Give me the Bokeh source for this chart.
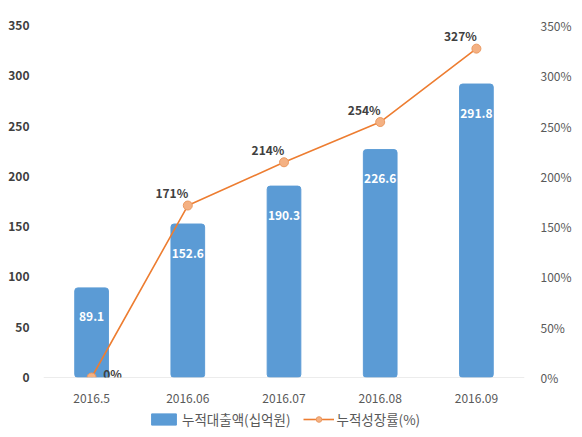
from bokeh.embed import file_html
from bokeh.resources import INLINE
from bokeh.core.properties import value
from bokeh.layouts import column
from bokeh.models import (ColumnDataSource, LinearAxis, Range1d, LabelSet,
                          Legend, LegendItem, PrintfTickFormatter, FixedTicker, Span)
from bokeh.plotting import figure

months = ["2016.5", "2016.06", "2016.07", "2016.08", "2016.09"]
loans = [89.1, 152.6, 190.3, 226.6, 291.8]
growth = [0, 171, 214, 254, 327]

source = ColumnDataSource(dict(
    month=months,
    loan=loans,
    growth=growth,
    loan_txt=["%.1f" % v for v in loans],
    growth_txt=["%d%%" % v for v in growth],
    # the 0% label sits to the right of its point, the rest above-left
    gx=[21 if g == 0 else -16 for g in growth],
    gy=[4 if g == 0 else 13 for g in growth],
))

bar_color = "#5B9BD5"
line_color = "#ED7D31"
font = "Noto Sans CJK KR"

p = figure(x_range=months, y_range=Range1d(0, 350), width=574, height=405,
           output_backend="svg", toolbar_location=None,
           min_border_left=43, min_border_right=43, min_border_top=25, min_border_bottom=28)
p.outline_line_color = None
p.xgrid.grid_line_color = None
p.ygrid.grid_line_color = None
p.extra_y_ranges = {"pct": Range1d(0, 350)}

bars = p.vbar(x="month", top="loan", width=0.35, source=source, color=bar_color,
              border_radius=3)

base = Span(location=0, dimension="width", line_color="#D9D9D9", line_width=1)
p.add_layout(base)

ln = p.line(x="month", y="growth", source=source, y_range_name="pct",
            line_color=line_color, line_width=1.6)
pts = p.scatter(x="month", y="growth", source=source, y_range_name="pct", size=9,
                fill_color="#F4B183", line_color="#EB9A62", line_width=1)

# left axis
p.yaxis.ticker = FixedTicker(ticks=list(range(0, 351, 50)))
p.yaxis.axis_line_color = None
p.yaxis.major_tick_line_color = None
p.yaxis.minor_tick_line_color = None
p.yaxis.major_label_text_font = font
p.yaxis.major_label_text_font_size = "12px"
p.yaxis.major_label_text_font_style = "bold"
p.yaxis.major_label_text_color = "#404040"
p.yaxis.major_label_standoff = 8

# right axis
ax2 = LinearAxis(y_range_name="pct", ticker=FixedTicker(ticks=list(range(0, 351, 50))),
                 formatter=PrintfTickFormatter(format="%d%%"))
ax2.axis_line_color = None
ax2.major_tick_line_color = None
ax2.minor_tick_line_color = None
ax2.major_label_text_font = font
ax2.major_label_text_font_size = "12px"
ax2.major_label_text_color = "#595959"
ax2.major_label_standoff = 10
p.add_layout(ax2, "right")

# x axis
p.xaxis.axis_line_color = None
p.xaxis.major_tick_line_color = None
p.xaxis.major_label_text_font = font
p.xaxis.major_label_text_font_size = "12px"
p.xaxis.major_label_text_color = "#595959"
p.xaxis.major_label_standoff = 10

bar_labels = LabelSet(x="month", y="loan", text="loan_txt", source=source,
                      text_align="center", text_baseline="middle", y_offset=-29,
                      text_color="white", text_font=value(font), text_font_style="bold",
                      text_font_size="12px")
p.add_layout(bar_labels)

pct_labels = LabelSet(x="month", y="growth", text="growth_txt", source=source,
                      y_range_name="pct", text_align="center", text_baseline="middle",
                      x_offset="gx", y_offset="gy", text_color="#404040",
                      text_font=value(font), text_font_style="bold", text_font_size="12px")
p.add_layout(pct_labels)

# legend strip under the chart (dummy glyphs with no drawable data)
lg = figure(width=574, height=28, output_backend="svg", toolbar_location=None,
            x_range=Range1d(0, 1), y_range=Range1d(0, 1),
            min_border_left=0, min_border_right=0, min_border_top=0, min_border_bottom=0)
lg.axis.visible = False
lg.grid.visible = False
lg.outline_line_color = None
dummy = ColumnDataSource(dict(x=[0.5], y=[float("nan")]))
lb = lg.vbar(x="x", top="y", width=0.1, source=dummy, color=bar_color)
ll = lg.line(x="x", y="y", source=dummy, line_color=line_color, line_width=1.6)
lp = lg.scatter(x="x", y="y", source=dummy, size=9, fill_color="#F4B183",
                line_color="#EB9A62", line_width=1)

legend = Legend(items=[LegendItem(label="누적대출액(십억원)", renderers=[lb]),
                       LegendItem(label="누적성장률(%)", renderers=[ll, lp])],
                orientation="horizontal", location=(105, 4),
                border_line_color=None, background_fill_alpha=0,
                label_text_font=font, label_text_font_size="13.5px",
                label_text_color="#595959", glyph_width=31, glyph_height=14,
                spacing=12, padding=2, margin=0, label_standoff=3)
lg.add_layout(legend, "center")

layout = column(p, lg, spacing=0)
open("out.html", "w").write(file_html(layout, INLINE))
